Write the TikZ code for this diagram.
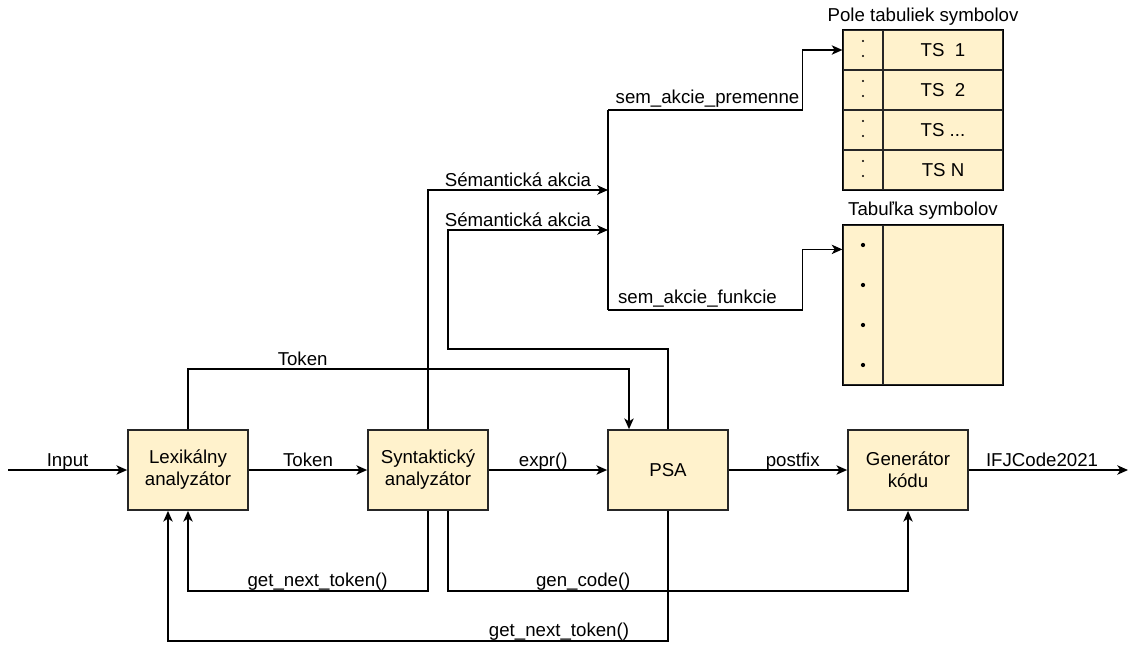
\documentclass[tikz,border=0pt]{standalone}
\usepackage{fontspec}
\setmainfont{Liberation Sans}
\usetikzlibrary{arrows.meta,calc}
\definecolor{cream}{HTML}{FFF2CC}
\newcommand{\tsdots}{...}

\begin{document}
\begin{tikzpicture}[x=0.75pt, y=-0.75pt, >={Stealth[length=8pt,width=7pt,inset=2.2pt]},
		line width=1.3pt, font=\fontsize{14}{16.5}\selectfont,
		block/.style={draw=black!85, fill=cream, minimum width=90pt, minimum height=60pt, align=center, inner sep=2pt},
		cell/.style={draw=black!85, fill=cream, line width=0.9pt, inner sep=0pt, minimum height=30pt},
		lbl/.style={anchor=base, yshift=3pt, inner sep=0pt}]
		\useasboundingbox (0,0) rectangle (1137,650);
		
		% Blocks
		\node[block] (lex) at (188,470) {Lexikálny\\analyzátor};
		\node[block] (syn) at (428,470) {Syntaktický\\analyzátor};
		\node[block] (psa) at (668,470) {PSA};
		\node[block] (gen) at (908,470) {Generátor\\kódu};
		
		% Pole tabuliek symbolov
		\node (poleT) at (923,17) {Pole tabuliek symbolov};
		\foreach \i/\t in {1/TS\ \ 1, 2/TS\ \ 2, 3/TS \tsdots, 4/TS N} {
			\node[cell, minimum width=30pt] (dot\i) at (863,10+40*\i) {};
			\node[cell, minimum width=90pt] (ts\i) at (943,10+40*\i) {\t};
			\fill ($(dot\i)+(0,-9)$) circle[radius=0.9pt] ($(dot\i)+(0,6)$) circle[radius=0.9pt];
		}
		\draw (dot1.north west) rectangle (ts4.south east);
		
		% Tabulka symbolov
		\node (tabT) at (923,211) {Tabuľka symbolov};
		\node[cell, minimum width=30pt, minimum height=120pt] (tabL) at (863,305) {};
		\node[cell, minimum width=90pt, minimum height=120pt] (tabR) at (943,305) {};
		\draw (tabL.north west) rectangle (tabR.south east);
		\foreach \y in {245,285,325,365}
			\fill (863,\y) circle[radius=1.6pt];
		
		% Main flow
		\coordinate (input) at (8,470);
		\coordinate (output) at (1128,470);
		\draw[->] (input) -- (lex) node[lbl, midway] {Input};
		\draw[->] (lex) -- (syn) node[lbl, midway] {Token};
		\draw[->] (syn) -- (psa) node[lbl, pos=0.46] {expr()};
		\draw[->] (psa) -- (gen) node[lbl, pos=0.54] {postfix};
		\draw[->] (gen) -- (output) node[lbl, pos=0.46] {IFJCode2021};
		
		% Token to PSA
		\draw[->] (lex.north) -- ++(0,-60) -| ($(psa.north)+(-39,0)$) node[lbl, pos=0.13] {Token};
		
		% Semantic actions
		\coordinate (sa1) at (608,190);
		\coordinate (sa2) at (608,230);
		\coordinate (busT) at (608,110);
		\coordinate (busB) at (608,310);
		\draw[->] (syn.north) |- (sa1) node[lbl, pos=0.75] {Sémantická akcia};
		\draw[->] (psa.north) |- ($(syn.north)+(20,-80)$) |- (sa2) node[lbl, pos=0.75, xshift=-7.5pt] {Sémantická akcia};
		\draw (busT) -- (busB);
		\draw[->] (busT) -| ($(dot1.west)+(-40,0)$) node[lbl, pos=0.256, yshift=2pt] {sem\_akcie\_premenne} -- (dot1.west);
		\draw[->] (busB) -| ($(tabL.north west)+(-40,25)$) node[lbl, pos=0.23, yshift=2pt] {sem\_akcie\_funkcie} -- ($(tabL.north west)+(0,25)$);
		
		% Calls back
		\draw[->] (syn.south) -- ++(0,80) -| (lex.south) node[lbl, pos=0.23] {get\_next\_token()};
		\draw[->] ($(syn.south)+(20,0)$) -- ++(0,80) -| (gen.south) node[lbl, pos=0.147] {gen\_code()};
		\draw[->] (psa.south) -- ++(0,130) -| ($(lex.south)+(-20,0)$) node[lbl, pos=0.109] {get\_next\_token()};
	\end{tikzpicture}
\end{document}
